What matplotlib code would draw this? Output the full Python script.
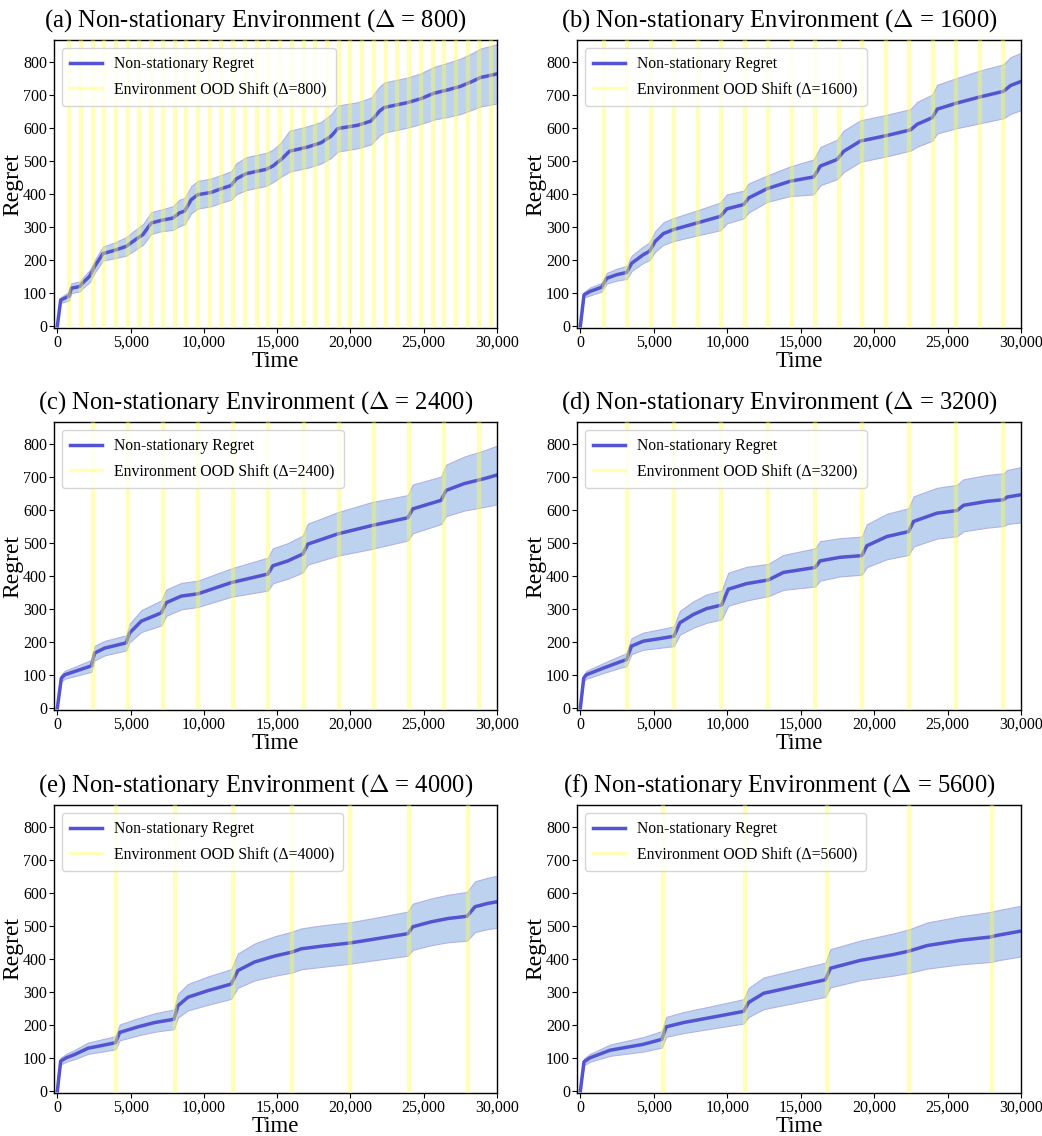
import numpy as np
import matplotlib
matplotlib.use("Agg")
import matplotlib.pyplot as plt
from matplotlib.ticker import FuncFormatter

plt.rcParams['font.family'] = ['Liberation Serif', 'DejaVu Serif']
plt.rcParams['mathtext.fontset'] = 'cm'

# ---------------- data ----------------
deltas = [800, 1600, 2400, 3200, 4000, 5600]
panel_letters = ['a', 'b', 'c', 'd', 'e', 'f']
T_MAX = 30000

# (a) Delta = 800
t_a = [0, 225, 610, 800, 953, 1520, 1750, 2200, 2544, 3110, 3907, 4703, 5157, 5840, 6408, 7090,
       7885, 8340, 8680, 9135, 9590, 10500, 11180, 11860, 12200, 12886, 14250, 14700, 15270, 15840,
       17090, 18000, 18680, 19136, 20500, 21410, 21980, 22320, 23910, 24820, 25680, 26600, 27500,
       28400, 28870, 30000]
m_a = [0, 78, 86, 90, 114, 119, 131, 150, 180, 219, 229, 241, 256, 277, 312, 320,
       327, 343, 348, 383, 398, 405, 416, 426, 446, 462, 475, 485, 505, 530,
       543, 556, 576, 599, 609, 622, 652, 663, 678, 690, 706, 716, 727,
       744, 754, 765]
s_a = [0, 8, 12, 13, 15, 15, 16, 18, 19, 21, 24, 28, 30, 31, 33, 33,
       36, 40, 40, 41, 42, 42, 42, 43, 47, 50, 50, 49, 52, 62,
       63, 63, 66, 70, 70, 71, 74, 76, 76, 77, 80, 82, 84,
       86, 88, 90]

# (b) Delta = 1600
t_b = [0, 248, 657, 1453, 1794, 2475, 3158, 3498, 4294, 4700, 5090, 5658, 6340, 7930, 9522, 9977,
       11113, 11454, 12700, 14295, 15886, 16340, 17477, 17932, 19068, 20887, 22478, 22933, 23955,
       24296, 25600, 27200, 28800, 29300, 30000]
m_b = [0, 94, 104, 117, 144, 155, 162, 190, 216, 226, 256, 280, 292, 312, 332, 355,
       368, 388, 416, 439, 452, 485, 505, 530, 561, 578, 595, 612, 632,
       658, 676, 695, 712, 730, 742]
s_b = [0, 8, 12, 13, 16, 18, 20, 23, 25, 27, 31, 34, 35, 38, 42, 44,
       42, 44, 40, 45, 53, 58, 60, 63, 63, 63, 63, 68, 70,
       74, 76, 80, 82, 86, 87]

# (c) Delta = 2400
t_c = [0, 270, 500, 2316, 2544, 3226, 4700, 4930, 5726, 7090, 7430, 8453, 9590, 11860, 14363,
       14700, 15727, 16750, 17090, 19136, 21410, 23910, 24250, 26183, 26520, 27770, 29140, 30000]
m_c = [0, 90, 100, 127, 166, 181, 197, 227, 263, 288, 319, 339, 346, 380, 406,
       431, 446, 467, 497, 528, 553, 577, 604, 630, 660, 681, 696, 707]
s_c = [0, 10, 12, 18, 22, 22, 23, 28, 33, 38, 40, 40, 40, 43, 50,
       53, 54, 56, 62, 66, 71, 69, 74, 72, 78, 82, 86, 89]

# (d) Delta = 3200
t_d = [0, 227, 409, 1545, 2680, 3137, 3478, 4273, 5410, 6364, 6774, 7683, 8592, 9615, 10070,
       11320, 12797, 13820, 15979, 16320, 17684, 19161, 19502, 20866, 22344, 22685, 24276, 25640,
       26094, 27685, 28820, 29050, 30000]
m_d = [0, 90, 100, 120, 139, 146, 187, 202, 210, 217, 258, 283, 301, 312, 360,
       377, 388, 411, 426, 446, 457, 462, 492, 520, 535, 566, 591, 599,
       615, 627, 632, 640, 647]
s_d = [0, 10, 12, 15, 18, 20, 24, 26, 28, 30, 36, 40, 43, 44, 50,
       51, 49, 53, 58, 60, 58, 58, 65, 69, 71, 76, 77, 78,
       79, 80, 80, 82, 84]

# (e) Delta = 4000
t_e = [0, 225, 611, 1180, 2089, 3226, 3976, 4250, 5500, 6635, 7953, 8226, 8908, 10272, 11860,
       12320, 13454, 14818, 16000, 16636, 18000, 20000, 21410, 23910, 24250, 25500, 26637, 27955,
       28500, 29365, 30000]
m_e = [0, 90, 100, 110, 129, 139, 146, 177, 194, 207, 217, 258, 284, 304, 324,
       365, 391, 409, 421, 431, 439, 449, 459, 477, 498, 513, 523, 530,
       559, 569, 574]
s_e = [0, 10, 12, 14, 17, 19, 20, 24, 26, 28, 30, 36, 40, 43, 45,
       52, 56, 60, 62, 62, 63, 63, 64, 67, 70, 71, 72, 74,
       77, 78, 79]

# (f) Delta = 5600
t_f = [0, 248, 657, 2021, 4294, 5544, 5840, 7022, 8840, 11113, 11454, 12477, 14520, 16682, 17023,
       19068, 21342, 22364, 23614, 25886, 27933, 28388, 30000]
m_f = [0, 88, 100, 123, 141, 156, 194, 207, 222, 241, 268, 296, 316, 337, 372,
       396, 414, 424, 441, 457, 467, 472, 485]
s_f = [0, 10, 12, 17, 22, 25, 30, 32, 34, 37, 44, 48, 50, 52, 58,
       60, 64, 66, 70, 73, 76, 76, 77]

times = [t_a, t_b, t_c, t_d, t_e, t_f]
means = [m_a, m_b, m_c, m_d, m_e, m_f]
stds = [s_a, s_b, s_c, s_d, s_e, s_f]

x_ticks = [0, 5000, 10000, 15000, 20000, 25000, 30000]
y_ticks = [0, 100, 200, 300, 400, 500, 600, 700, 800]

# ---------------- style ----------------
LINE_COLOR = '#5454d2'
FILL_COLOR = '#bdd2ee'
FILL_EDGE = '#b0b2e8'
SHIFT_COLOR = '#ffff50'

W, H = 1042, 1136
fig = plt.figure(figsize=(W / 100, H / 100), dpi=100)

col_left = [54, 577]
col_w = [443, 444]
row_top = [40, 422, 805]
row_h = 288

for i in range(6):
    r, c = divmod(i, 2)
    left = col_left[c] / W
    bottom = 1 - (row_top[r] + row_h) / H
    ax = fig.add_axes([left, bottom, col_w[c] / W, row_h / H])

    t = np.array(times[i], dtype=float)
    m = np.array(means[i], dtype=float)
    s = np.array(stds[i], dtype=float)
    d = deltas[i]

    ax.fill_between(t, m - s, m + s, facecolor=FILL_COLOR, edgecolor=FILL_EDGE,
                    linewidth=0.8, zorder=1)
    ax.plot(t, m, color=LINE_COLOR, lw=2.5, zorder=2, label='Non-stationary Regret')

    shifts = np.arange(d, T_MAX, d)
    for k, xs in enumerate(shifts):
        ax.axvline(xs, color=SHIFT_COLOR, alpha=0.4, lw=3.2, zorder=3,
                   label=f'Environment OOD Shift (\u0394={d})' if k == 0 else None)

    ax.set_xlim(-230, T_MAX)
    ax.set_ylim(-7, 868)
    ax.set_xticks(x_ticks)
    ax.set_yticks(y_ticks)
    ax.xaxis.set_major_formatter(FuncFormatter(lambda v, p: f'{int(v):,}'))
    ax.tick_params(axis='both', labelsize=11.5, length=3.5, width=0.8, pad=1.5)
    for sp in ax.spines.values():
        sp.set_linewidth(1.0)

    ax.set_xlabel('Time', fontsize=16.5, labelpad=0)
    ax.set_ylabel('Regret', fontsize=17, labelpad=0)
    ax.set_title(f'({panel_letters[i]}) Non-stationary Environment ($\\Delta$ = {d})',
                 fontsize=17.7, pad=10, x=0.455)

    leg = ax.legend(loc='upper left', fontsize=11.3, frameon=True, framealpha=0.8,
                    edgecolor='#cccccc', handlelength=2.0, borderpad=0.55,
                    labelspacing=0.55, handletextpad=0.8)
    for h in leg.get_lines():
        h.set_linewidth(2.5)

fig.savefig('out.png', dpi=100)
